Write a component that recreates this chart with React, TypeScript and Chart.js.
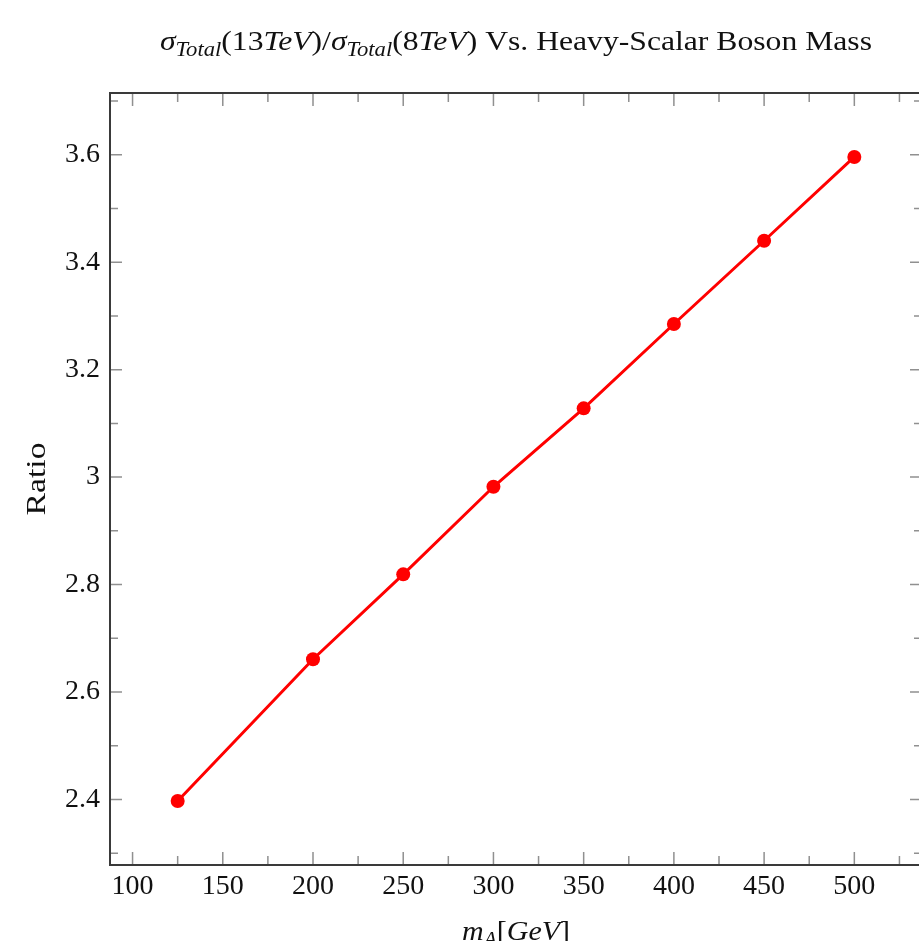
import React, { useEffect, useRef } from "react";
import { Chart, registerables } from "chart.js";

Chart.register(...registerables);

// Heavy-scalar mass points and the 13 TeV / 8 TeV total cross-section ratio
const massGeV = [125, 200, 250, 300, 350, 400, 450, 500];
const ratio = [2.397, 2.661, 2.819, 2.982, 3.128, 3.285, 3.44, 3.596];

// Axis ticks
const xMajorTicks = [100, 150, 200, 250, 300, 350, 400, 450, 500];
const xMinorTicks = [125, 175, 225, 275, 325, 375, 425, 475, 525];
const yMajorTicks = [2.4, 2.6, 2.8, 3.0, 3.2, 3.4, 3.6];
const yMinorTicks = [2.3, 2.5, 2.7, 2.9, 3.1, 3.3, 3.5, 3.7];

const X_MIN = 87.5;
const X_MAX = 537.5;
const Y_MIN = 2.278;
const Y_MAX = 3.715;

const SERIF = "'Liberation Serif', 'DejaVu Serif', serif";

type Run = { text: string; italic?: boolean; sub?: boolean };

const titleRuns: Run[] = [
  { text: "σ", italic: true },
  { text: "Total", italic: true, sub: true },
  { text: "(13" },
  { text: "TeV", italic: true },
  { text: ")/" },
  { text: "σ", italic: true },
  { text: "Total", italic: true, sub: true },
  { text: "(8" },
  { text: "TeV", italic: true },
  { text: ") Vs. Heavy-Scalar Boson Mass" },
];

const xTitleRuns: Run[] = [
  { text: "m", italic: true },
  { text: "A", italic: true, sub: true },
  { text: "[" },
  { text: "GeV", italic: true },
  { text: "]" },
];

function runFont(r: Run, size: number) {
  const s = r.sub ? Math.round(size * 0.7) : size;
  return `${r.italic ? "italic " : ""}${s}px ${SERIF}`;
}

// Draws a line of mixed upright / italic / subscript text, centred on cx and
// stretched horizontally to the given width.
function drawRuns(
  ctx: CanvasRenderingContext2D,
  runs: Run[],
  cx: number,
  baseline: number,
  size: number,
  width: number
) {
  ctx.save();
  ctx.fillStyle = "#111";
  ctx.textBaseline = "alphabetic";
  ctx.textAlign = "left";
  let total = 0;
  const widths = runs.map((r) => {
    ctx.font = runFont(r, size);
    const w = ctx.measureText(r.text).width;
    total += w;
    return w;
  });
  ctx.translate(cx - width / 2, baseline);
  ctx.scale(width / total, 1);
  let x = 0;
  runs.forEach((r, i) => {
    ctx.font = runFont(r, size);
    ctx.fillText(r.text, x, r.sub ? size * 0.22 : 0);
    x += widths[i];
  });
  ctx.restore();
}

// Frame with inward ticks on all four sides, plus the titles
const framePlugin = {
  id: "frameAndTitles",
  beforeDatasetsDraw(chart: any) {
    const { ctx, chartArea } = chart;
    const { left, right, top, bottom } = chartArea;
    const xs = chart.scales.x;
    const ys = chart.scales.y;
    ctx.save();
    ctx.strokeStyle = "#909090";
    ctx.lineWidth = 1.5;
    const xTick = (v: number, len: number) => {
      const px = xs.getPixelForValue(v);
      ctx.beginPath();
      ctx.moveTo(px, bottom);
      ctx.lineTo(px, bottom - len);
      ctx.moveTo(px, top);
      ctx.lineTo(px, top + len);
      ctx.stroke();
    };
    const yTick = (v: number, len: number) => {
      const py = ys.getPixelForValue(v);
      ctx.beginPath();
      ctx.moveTo(left, py);
      ctx.lineTo(left + len, py);
      ctx.moveTo(right, py);
      ctx.lineTo(right - len, py);
      ctx.stroke();
    };
    xMajorTicks.forEach((v) => xTick(v, 13));
    xMinorTicks.forEach((v) => xTick(v, 9));
    yMajorTicks.forEach((v) => yTick(v, 12));
    yMinorTicks.forEach((v) => yTick(v, 8));
    ctx.strokeStyle = "#3a3a3a";
    ctx.lineWidth = 2;
    ctx.strokeRect(left, top, right - left, bottom - top);
    ctx.restore();
  },
  afterDraw(chart: any) {
    const { ctx, chartArea } = chart;
    drawRuns(ctx, titleRuns, 516, 50, 28, 712);
    drawRuns(ctx, xTitleRuns, 516, 940, 28, 108);
    ctx.save();
    ctx.fillStyle = "#111";
    ctx.font = `28px ${SERIF}`;
    ctx.textAlign = "center";
    ctx.textBaseline = "middle";
    ctx.translate(38, (chartArea.top + chartArea.bottom) / 2);
    ctx.rotate(-Math.PI / 2);
    const w = ctx.measureText("Ratio").width;
    ctx.scale(73 / w, 1);
    ctx.fillText("Ratio", 0, 0);
    ctx.restore();
  },
};

export default function App() {
  const canvasRef = useRef<HTMLCanvasElement | null>(null);

  useEffect(() => {
    const canvas = canvasRef.current;
    if (!canvas) return;
    const chart = new Chart(canvas, {
      type: "line",
      data: {
        datasets: [
          {
            data: massGeV.map((m, i) => ({ x: m, y: ratio[i] })),
            borderColor: "#ff0000",
            backgroundColor: "#ff0000",
            borderWidth: 3,
            pointRadius: 7,
            pointHoverRadius: 7,
            pointBorderWidth: 0,
            fill: false,
            tension: 0,
          },
        ],
      },
      options: {
        responsive: false,
        animation: false,
        devicePixelRatio: 1,
        layout: { padding: { top: 93, right: 8, left: 0, bottom: 0 } },
        plugins: {
          legend: { display: false },
          tooltip: { enabled: false },
          title: { display: false },
        },
        scales: {
          x: {
            type: "linear",
            min: X_MIN,
            max: X_MAX,
            grid: { display: false, drawTicks: false, tickLength: 0 },
            border: { display: false },
            afterBuildTicks: (s: any) => {
              s.ticks = xMajorTicks.map((v) => ({ value: v }));
            },
            afterFit: (s: any) => {
              s.height = 76;
            },
            ticks: {
              autoSkip: false,
              maxRotation: 0,
              padding: 5,
              color: "#111",
              font: { family: SERIF, size: 28 },
              callback: (v: any) => String(v),
            },
          },
          y: {
            type: "linear",
            min: Y_MIN,
            max: Y_MAX,
            grid: { display: false, drawTicks: false, tickLength: 0 },
            border: { display: false },
            afterBuildTicks: (s: any) => {
              s.ticks = yMajorTicks.map((v) => ({ value: v }));
            },
            afterFit: (s: any) => {
              s.width = 110;
            },
            ticks: {
              autoSkip: false,
              padding: 10,
              color: "#111",
              font: { family: SERIF, size: 28 },
              callback: (v: any) => String(v),
            },
          },
        },
      },
      plugins: [framePlugin],
    });
    return () => chart.destroy();
  }, []);

  return (
    <div
      style={{
        position: "fixed",
        left: 0,
        top: 0,
        width: 919,
        height: 941,
        overflow: "hidden",
        background: "#fff",
      }}
    >
      <canvas ref={canvasRef} width={930} height={941} style={{ display: "block" }} />
    </div>
  );
}
